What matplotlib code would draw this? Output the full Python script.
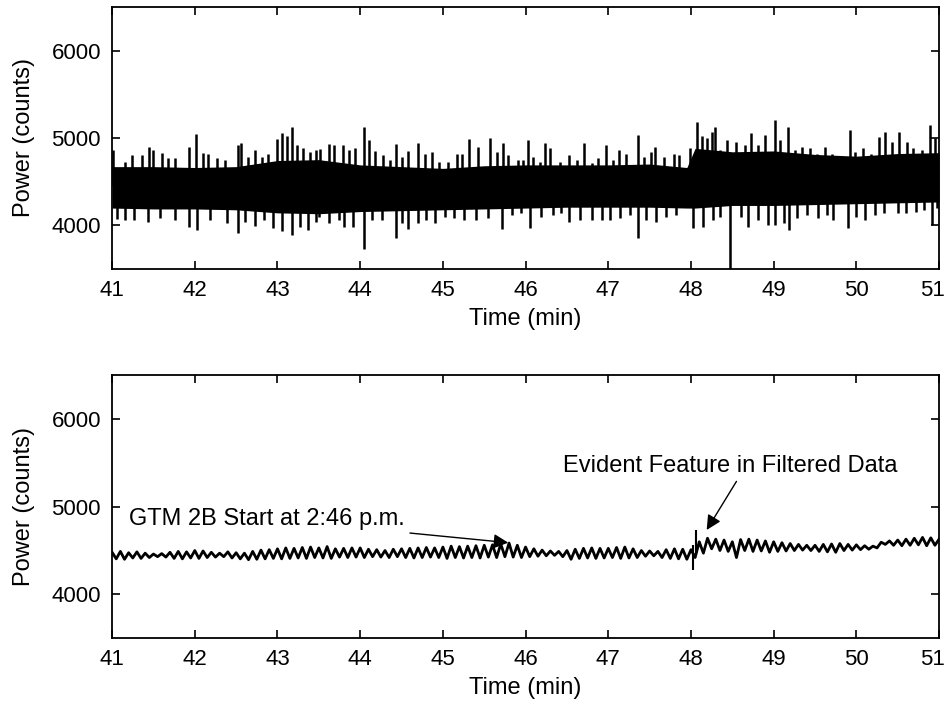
import matplotlib
matplotlib.use("Agg")
import matplotlib.pyplot as plt
import matplotlib.transforms as mtransforms
import numpy as np

plt.rcParams['font.family'] = ['Liberation Sans', 'DejaVu Sans']
plt.rcParams['font.size'] = 17

# ---- top panel: raw power, dense band + individual spikes ----
t_core = [41.0, 41.5, 42.0, 42.5, 43.0, 43.5, 44.0, 44.5, 45.0, 45.5, 46.0,
          46.5, 47.0, 47.5, 47.95, 48.05, 48.5, 49.0, 49.5, 50.0, 50.5, 51.0]
core_hi = [4670, 4670, 4660, 4670, 4740, 4750, 4690, 4670, 4650, 4680, 4690,
           4690, 4690, 4700, 4660, 4880, 4840, 4850, 4810, 4790, 4820, 4830]
core_lo = [4195, 4185, 4185, 4175, 4140, 4130, 4155, 4165, 4175, 4185, 4195,
           4205, 4205, 4205, 4195, 4195, 4225, 4225, 4235, 4245, 4255, 4265]

t_up = [41.01, 41.16, 41.24, 41.36, 41.45, 41.50, 41.60, 41.68, 41.76, 41.93,
        42.02, 42.10, 42.16, 42.27, 42.37, 42.52, 42.56, 42.64, 42.73, 42.81,
        42.89, 42.99, 43.06, 43.11, 43.17, 43.23, 43.31, 43.39, 43.47, 43.52,
        43.62, 43.68, 43.79, 43.86, 43.94, 44.05, 44.11, 44.18, 44.28, 44.36,
        44.43, 44.50, 44.58, 44.70, 44.78, 44.87, 44.95, 45.06, 45.17, 45.23,
        45.32, 45.43, 45.57, 45.65, 45.73, 45.79, 45.91, 45.97, 46.03, 46.09,
        46.17, 46.24, 46.30, 46.42, 46.53, 46.62, 46.71, 46.80, 46.88, 46.97,
        47.06, 47.13, 47.22, 47.36, 47.43, 47.52, 47.57, 47.67, 47.80, 47.85,
        47.99, 48.07, 48.13, 48.19, 48.25, 48.29, 48.35, 48.43, 48.55, 48.65,
        48.73, 48.81, 48.90, 49.02, 49.08, 49.17, 49.26, 49.34, 49.44, 49.52,
        49.62, 49.70, 49.80, 49.92, 49.98, 50.08, 50.18, 50.27, 50.35, 50.43,
        50.51, 50.61, 50.69, 50.79, 50.89, 50.95]
p_up = [4862, 4727, 4804, 4804, 4893, 4862, 4831, 4766, 4766, 4893,
        5046, 4831, 4820, 4770, 4750, 4919, 4946, 4785, 4858, 4785,
        4820, 4985, 5061, 5016, 5130, 4919, 4881, 4843, 4862, 4870,
        4931, 4919, 4919, 4862, 4881, 5130, 4977, 4854, 4804, 4747,
        4931, 4785, 4854, 4939, 4820, 4843, 4727, 4727, 4820, 4820,
        4985, 4893, 4996, 4843, 4946, 4804, 4747, 4747, 4977, 4785,
        4727, 4939, 4881, 4727, 4804, 4747, 4939, 4708, 4766, 4919,
        4747, 4862, 4820, 5034, 4785, 4843, 4900, 4785, 4820, 4804,
        4881, 5187, 5016, 4996, 5072, 5130, 4862, 4977, 4958, 4919,
        5053, 4919, 5034, 5207, 4977, 5130, 4862, 4900, 4881, 4820,
        4900, 4820, 4785, 5092, 4843, 4881, 4820, 5015, 5072, 4958,
        5072, 4958, 4881, 4862, 5149, 4996]

t_dn = [41.06, 41.16, 41.27, 41.43, 41.58, 41.76, 41.93, 42.03, 42.18, 42.39,
        42.52, 42.61, 42.73, 42.84, 42.95, 43.06, 43.17, 43.27, 43.37, 43.47,
        43.50, 43.62, 43.74, 43.80, 43.91, 44.05, 44.14, 44.26, 44.43, 44.50,
        44.58, 44.70, 44.80, 44.90, 45.02, 45.14, 45.26, 45.40, 45.55, 45.71,
        45.83, 45.95, 46.05, 46.19, 46.33, 46.43, 46.52, 46.66, 46.80, 46.92,
        47.02, 47.14, 47.26, 47.36, 47.46, 47.58, 47.70, 47.82, 48.03, 48.15,
        48.27, 48.35, 48.47, 48.60, 48.69, 48.81, 48.93, 49.02, 49.12, 49.19,
        49.28, 49.40, 49.54, 49.64, 49.72, 49.90, 50.00, 50.10, 50.22, 50.34,
        50.50, 50.60, 50.72, 50.82, 50.91, 50.97]
p_dn = [4065, 4057, 4057, 4038, 4077, 4057, 3981, 3943, 4057, 4023,
        3904, 4038, 3988, 4057, 3962, 3935, 3885, 3981, 3943, 4038,
        4096, 4027, 4057, 3981, 3981, 3721, 4057, 4057, 3847, 4023,
        3954, 4023, 4057, 4023, 4096, 4077, 4057, 4057, 4077, 3950,
        4115, 4134, 3962, 4096, 4115, 4134, 4038, 4057, 4057, 4057,
        4057, 4077, 4115, 3847, 4057, 4038, 4096, 4115, 3962, 3981,
        4057, 4096, 3450, 4096, 3981, 4057, 4000, 4000, 4023, 3943,
        4077, 4115, 4077, 4115, 4057, 3962, 4096, 4057, 4115, 4134,
        4134, 4134, 4153, 4172, 4000, 4200]

# ---- bottom panel: filtered power, peaks / troughs every 0.05 min ----
t_filt = np.round(np.arange(41.0, 51.025, 0.05), 2)
p_filt = [4480, 4405, 4490, 4400, 4475, 4415, 4485, 4410, 4470, 4420,
          4460, 4430, 4465, 4425, 4480, 4410, 4490, 4405, 4485, 4415,
          4500, 4410, 4495, 4420, 4480, 4425, 4470, 4430, 4485, 4415,
          4475, 4405, 4470, 4395, 4490, 4400, 4505, 4405, 4510, 4410,
          4520, 4405, 4530, 4410, 4525, 4415, 4535, 4410, 4540, 4420,
          4530, 4415, 4545, 4410, 4520, 4425, 4525, 4420, 4530, 4425,
          4530, 4420, 4515, 4430, 4510, 4425, 4500, 4420, 4515, 4430,
          4520, 4420, 4525, 4415, 4530, 4420, 4535, 4425, 4530, 4420,
          4540, 4410, 4550, 4420, 4545, 4415, 4550, 4420, 4555, 4415,
          4560, 4425, 4565, 4420, 4575, 4430, 4585, 4425, 4560, 4420,
          4540, 4430, 4520, 4435, 4505, 4440, 4495, 4445, 4490, 4430,
          4500, 4400, 4515, 4410, 4525, 4415, 4530, 4410, 4525, 4415,
          4525, 4420, 4535, 4410, 4540, 4415, 4520, 4420, 4500, 4435,
          4495, 4440, 4490, 4420, 4510, 4410, 4520, 4405, 4515, 4400,
          4510, 4420, 4600, 4470, 4640, 4520, 4630, 4500, 4620, 4490,
          4600, 4420, 4625, 4500, 4630, 4490, 4620, 4495, 4610, 4480,
          4600, 4490, 4590, 4495, 4580, 4500, 4570, 4505, 4560, 4500,
          4560, 4490, 4570, 4485, 4575, 4480, 4580, 4500, 4570, 4505,
          4565, 4510, 4555, 4515, 4550, 4530, 4595, 4570, 4610, 4560,
          4620, 4555, 4630, 4560, 4640, 4565, 4650, 4555, 4645, 4560,
          4630]
t_feat = [48.03, 48.06]
feat_lo = [4280, 4450]
feat_hi = [4560, 4735]

xticks = [41, 42, 43, 44, 45, 46, 47, 48, 49, 50, 51]
yticks = [4000, 5000, 6000]

fig = plt.figure(figsize=(9.5, 7.06), dpi=100)
ax1 = fig.add_axes([0.118, 0.6194, 0.8705, 0.3707])
ax2 = fig.add_axes([0.118, 0.0962, 0.8705, 0.3720])

ax1.fill_between(t_core, core_lo, core_hi, color='k', lw=0)
ax1.vlines(t_up, 4450, p_up, color='k', lw=1.8)
ax1.vlines(t_dn, 4450, p_dn, color='k', lw=1.8)

ax2.plot(t_filt, p_filt, color='k', lw=2.0)
ax2.vlines(t_feat, feat_lo, feat_hi, color='k', lw=1.5)

ax2.annotate('GTM 2B Start at 2:46 p.m.', xy=(45.79, 4590), xytext=(41.2, 4860),
             va='center', ha='left', fontsize=17,
             arrowprops=dict(arrowstyle='-|>', color='k', lw=1.0,
                             mutation_scale=22, shrinkA=2, shrinkB=0))
ax2.text(46.45, 5460, 'Evident Feature in Filtered Data', va='center', ha='left',
         fontsize=17)
ax2.annotate('', xy=(48.19, 4735), xytext=(48.55, 5290),
             arrowprops=dict(arrowstyle='-|>', color='k', lw=1.0,
                             mutation_scale=22, shrinkA=0, shrinkB=0))

nudge = mtransforms.ScaledTranslation(-5 / 72, 0, fig.dpi_scale_trans)
for ax in (ax1, ax2):
    ax.set_xlim(41, 51)
    ax.set_ylim(3500, 6500)
    ax.set_xticks(xticks)
    ax.set_yticks(yticks)
    ax.tick_params(direction='in', top=True, right=True, length=6, width=1.2,
                   labelsize=16, pad=8)
    last = ax.get_xticklabels()[-1]
    last.set_transform(last.get_transform() + nudge)
    for s in ax.spines.values():
        s.set_linewidth(1.3)
    ax.set_xlabel('Time (min)', fontsize=17, labelpad=5)
    ax.set_ylabel('Power (counts)', fontsize=17, labelpad=12)

fig.savefig('out.png', dpi=100)
